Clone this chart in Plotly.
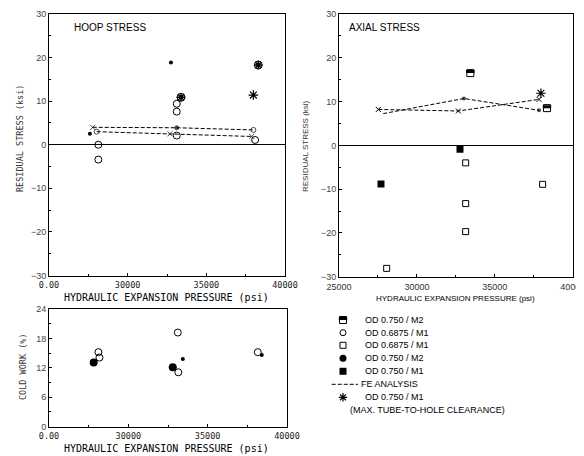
import plotly.graph_objects as go

# page body has an 8px margin; figure sized to fill the rest of the 584x456 window
OFF = 8
W, H = 584 - OFF, 456 - OFF

# ---------------- data ----------------
# HOOP STRESS panel (pressure psi, stress ksi)
hoop_od06875_m1_p = [28135, 28135, 33120, 33120, 33120, 38100]
hoop_od06875_m1_s = [0.0, -3.4, 9.4, 7.6, 2.1, 1.1]
hoop_od0750_m2_p = [27600, 32750]
hoop_od0750_m2_s = [2.5, 18.9]
hoop_circled_p = [33390, 38300]
hoop_circled_s = [10.9, 18.3]
hoop_maxclr_p = [37990]
hoop_maxclr_s = [11.4]
hoop_fe1_p = [27778, 33118, 37990]
hoop_fe1_s = [4.0, 3.9, 3.4]
hoop_fe2_p = [28032, 32692, 37886]
hoop_fe2_s = [3.0, 2.5, 1.9]

# AXIAL STRESS panel
ax_od0750_m2_p = [33430, 38350]
ax_od0750_m2_s = [16.5, 8.5]
ax_od06875_m1_p = [33130, 33130, 33130, 28060, 38070]
ax_od06875_m1_s = [-4.0, -13.3, -19.7, -28.1, -8.9]
ax_od0750_m1_p = [27696, 32766]
ax_od0750_m1_s = [-8.8, -0.9]
ax_maxclr_p = [37960]
ax_maxclr_s = [11.9]
ax_fe1_p = [27525, 32660, 37840]
ax_fe1_s = [8.2, 7.85, 10.5]
ax_fe2_p = [27840, 33020, 37840]
ax_fe2_s = [7.25, 10.7, 8.0]

# COLD WORK panel (%)
cw_big_filled_p = [27816, 32800]
cw_big_filled_v = [13.1, 12.1]
cw_small_filled_p = [33435, 38410]
cw_small_filled_v = [13.8, 14.6]
cw_open_p = [28115, 28180, 33117, 33150, 38160]
cw_open_v = [15.2, 14.1, 19.2, 11.1, 15.2]

x_tickvals = [25000, 30000, 35000, 40000]
hoop_x_ticktext = ["0.00", "30000", "35000", "40000"]
axial_x_ticktext = ["25000", "30000", "35000", "40000"]
stress_ticks = [-30, -20, -10, 0, 10, 20, 30]
cw_ticks = [0, 6, 12, 18, 24]

legend_labels = ["OD 0.750 / M2", "OD 0.6875 / M1", "OD 0.6875 / M1",
                 "OD 0.750 / M2", "OD 0.750 / M1", "FE ANALYSIS",
                 "OD 0.750 / M1", "(MAX. TUBE-TO-HOLE CLEARANCE)"]

# ---------------- helpers (window pixel -> paper fraction) ----------------
def px(x):
    return (x - OFF) / W

def py(y):
    return 1 - (y - OFF) / H

MONO = "DejaVu Sans Mono"
SANS = "Liberation Sans, Arial"
K = "black"
DASH = "4px,2px"
PX_PER_KSI = 4.37  # used only for half-filled square bar offset

fig = go.Figure()

def sc(x, y, xa, ya, symbol, size, lw=1, mode="markers", **kw):
    fig.add_trace(go.Scatter(
        x=x, y=y, xaxis=xa, yaxis=ya, mode=mode, showlegend=False,
        marker=dict(symbol=symbol, size=size, color=K, line=dict(color=K, width=lw)),
        hoverinfo="skip", **kw))

# hoop
sc(hoop_fe1_p, hoop_fe1_s, "x", "y", ["x-thin-open", "circle", "circle-open"], [5, 4, 5],
   mode="lines+markers", line=dict(color=K, width=1, dash=DASH))
sc(hoop_fe2_p, hoop_fe2_s, "x", "y", ["circle-open", "x-thin-open", "x-thin-open"], [5, 5, 5],
   mode="lines+markers", line=dict(color=K, width=1, dash=DASH))
sc(hoop_od06875_m1_p, hoop_od06875_m1_s, "x", "y", "circle-open", 7)
sc(hoop_od0750_m2_p, hoop_od0750_m2_s, "x", "y", "circle", 4, lw=0)
sc(hoop_circled_p, hoop_circled_s, "x", "y", "circle-open", 8)
sc(hoop_circled_p, hoop_circled_s, "x", "y", "asterisk-open", 7, lw=1.5)
sc(hoop_maxclr_p, hoop_maxclr_s, "x", "y", "asterisk-open", 8, lw=1.2)

# axial
sc(ax_fe1_p, ax_fe1_s, "x2", "y2", "x-thin-open", 5,
   mode="lines+markers", line=dict(color=K, width=1, dash=DASH))
sc(ax_fe2_p, ax_fe2_s, "x2", "y2", "circle", [0, 4, 4], lw=0,
   mode="lines+markers", line=dict(color=K, width=1, dash=DASH))
sc(ax_od06875_m1_p, ax_od06875_m1_s, "x2", "y2", "square-open", 6)
sc(ax_od0750_m1_p, ax_od0750_m1_s, "x2", "y2", "square", 7, lw=0)
sc(ax_od0750_m2_p, ax_od0750_m2_s, "x2", "y2", "square-open", 7)
sc(ax_od0750_m2_p, [v + 1.5 / PX_PER_KSI for v in ax_od0750_m2_s], "x2", "y2", "line-ew", 6, lw=3)
sc(ax_maxclr_p, ax_maxclr_s, "x2", "y2", "asterisk-open", 8, lw=1.2)

# cold work
sc(cw_open_p, cw_open_v, "x3", "y3", "circle-open", 7)
sc(cw_big_filled_p, cw_big_filled_v, "x3", "y3", "circle", 8, lw=0)
sc(cw_small_filled_p, cw_small_filled_v, "x3", "y3", "circle", 4, lw=0)

# legend (pixel-coordinate overlay axis)
lx = 343
rows = [320, 332.7, 345.3, 358.3, 371.3, 384.3, 397.3, 410.3]
sc([lx], [rows[0]], "x4", "y4", "square-open", 7)
sc([lx], [rows[0] - 1.5], "x4", "y4", "line-ew", 6, lw=3)
sc([lx], [rows[1]], "x4", "y4", "circle-open", 6)
sc([lx], [rows[2]], "x4", "y4", "square-open", 6)
sc([lx], [rows[3]], "x4", "y4", "circle", 7, lw=0)
sc([lx], [rows[4]], "x4", "y4", "square", 7, lw=0)
fig.add_trace(go.Scatter(x=[331.7, 358], y=[rows[5], rows[5]], xaxis="x4", yaxis="y4",
                         mode="lines", line=dict(color=K, width=1, dash=DASH),
                         showlegend=False, hoverinfo="skip"))
sc([lx], [rows[6]], "x4", "y4", "asterisk-open", 7, lw=1.2)

# ---------------- axes ----------------
def xax(dom, ticktext, font, anchor):
    return dict(domain=dom, range=[25000, 40000], tickvals=x_tickvals, ticktext=ticktext,
                ticks="inside", ticklen=3, tickcolor=K, showline=True, linecolor=K, linewidth=1,
                mirror=True, showgrid=False, zeroline=False, anchor=anchor, automargin=False,
                ticklabeloverflow="allow", ticklabelstandoff=1,
                tickfont=font, minor=dict(tickvals=[27500, 32500, 37500], ticks="inside",
                                          ticklen=2, tickcolor=K),
                fixedrange=True)

def yax(dom, rng, tickvals, minor_dtick, anchor, zero):
    return dict(domain=dom, range=rng, tickvals=tickvals, ticks="inside", ticklen=3,
                tickcolor=K, showline=True, linecolor=K, linewidth=1, mirror=True,
                showgrid=False, zeroline=zero, zerolinecolor=K, zerolinewidth=1,
                anchor=anchor, automargin=False,
                tickfont=dict(family=SANS, size=9, color="#444"),
                minor=dict(dtick=minor_dtick, ticks="inside", ticklen=2, tickcolor=K),
                fixedrange=True)

mono_tick = dict(family=MONO, size=8.5, color="#222")
sans_tick = dict(family=SANS, size=9, color="#333")

fig.update_layout(
    width=W, height=H, margin=dict(l=0, r=0, t=0, b=0, autoexpand=False),
    paper_bgcolor="white", plot_bgcolor="rgba(0,0,0,0)",
    xaxis=xax([px(49), px(285)], hoop_x_ticktext, mono_tick, "y"),
    yaxis=yax([py(275.5), py(14)], [-30, 30], stress_ticks, 5, "x", True),
    xaxis2=xax([px(339), px(572.7)], axial_x_ticktext, sans_tick, "y2"),
    yaxis2=yax([py(276.7), py(14)], [-30, 30], stress_ticks, 5, "x2", True),
    xaxis3=xax([px(49), px(287)], hoop_x_ticktext, mono_tick, "y3"),
    yaxis3=yax([py(426.7), py(309)], [0, 24], cw_ticks, 3, "x3", False),
    xaxis4=dict(domain=[0, 1], range=[OFF, OFF + W], visible=False, anchor="y4",
                fixedrange=True, automargin=False),
    yaxis4=dict(domain=[0, 1], range=[OFF + H, OFF], visible=False, anchor="x4",
                fixedrange=True, automargin=False),
)

ann = []
def text(t, x, y, family, size, xanchor="center", angle=0, color=K):
    ann.append(dict(text=t, x=px(x), y=py(y), xref="paper", yref="paper",
                    xanchor=xanchor, yanchor="middle", showarrow=False, textangle=angle,
                    font=dict(family=family, size=size, color=color)))

text("HOOP STRESS", 72, 27, SANS, 10, "left")
text("AXIAL STRESS", 347, 27, SANS, 10, "left")
text("HYDRAULIC EXPANSION PRESSURE (psi)", 166, 297, MONO, 10)
text("RESIDUAL STRESS (ksi)", 20, 139, MONO, 8.5, angle=-90, color="#333")
text("HYDRAULIC EXPANSION PRESSURE (psi)", 455, 298, SANS, 8)
text("RESIDUAL STRESS (ksi)", 305, 146, SANS, 8, angle=-90, color="#333")
text("HYDRAULIC EXPANSION PRESSURE (psi)", 166, 448, MONO, 10)
text("COLD WORK (%)", 23, 367, MONO, 8.5, angle=-90, color="#333")

for i, lab in enumerate(legend_labels):
    if i == 5:
        text(lab, 359.3, rows[i], SANS, 9, "left")
    elif i == 7:
        text(lab, 348, rows[i], SANS, 9, "left")
    else:
        text(lab, 362.7, rows[i], SANS, 9, "left")

fig.update_layout(annotations=ann)
fig.write_html("out.html")
